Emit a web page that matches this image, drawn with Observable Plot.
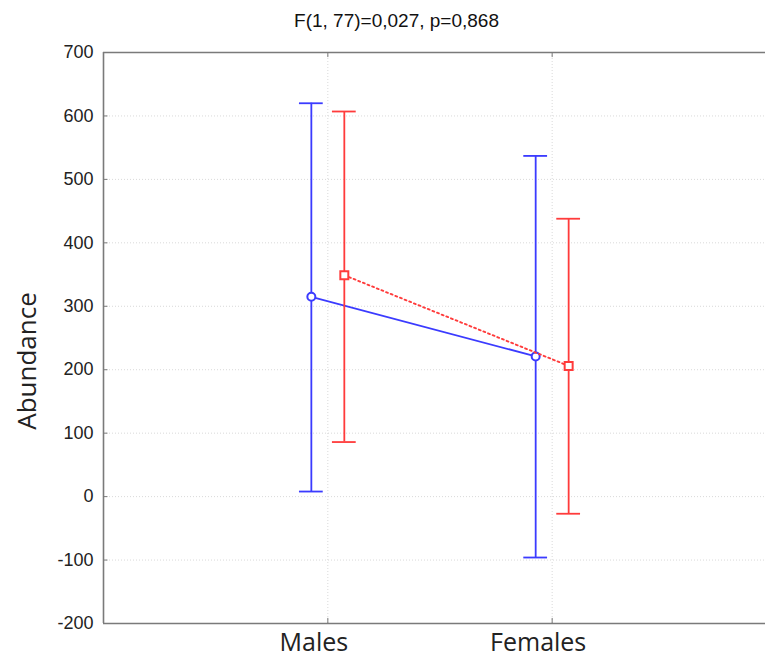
<!DOCTYPE html>
<html>
<head>
<meta charset="utf-8">
<script src="https://cdn.jsdelivr.net/npm/d3@7"></script>
<script src="https://cdn.jsdelivr.net/npm/@observablehq/plot@0.6"></script>
<style>
  html, body { margin: 0; padding: 0; background: #fff; }
</style>
</head>
<body>
<div id="chart"></div>
<script>
// ---- data ----
const title = "F(1, 77)=0,027, p=0,868";
const yLabel = "Abundance";
const categories = ["Males", "Females"];
const yTicks = [-200, -100, 0, 100, 200, 300, 400, 500, 600, 700];

const blueMean = [315, 221];
const blueLow = [8, -96];
const blueHigh = [620, 537];

const redMean = [349, 206];
const redLow = [86, -27];
const redHigh = [607, 438];

// ---- build rows ----
const dodge = 0.0735;
const capHalf = 0.053;
const series = [
  {name: "blue", color: "#3b3bff", mean: blueMean, low: blueLow, high: blueHigh, off: -dodge, symbol: "circle", dash: null},
  {name: "red", color: "#ff3b3b", mean: redMean, low: redLow, high: redHigh, off: dodge, symbol: "square", dash: "2,3"}
];
const rows = series.flatMap(s => categories.map((c, i) => ({
  series: s.name, color: s.color, cat: c, x: i + 1 + s.off,
  mean: s.mean[i], low: s.low[i], high: s.high[i]
})));
const catRows = categories.map((c, i) => ({cat: c, x: i + 1}));

const marks = [
  // grid
  Plot.ruleY(yTicks.filter(v => v > -200 && v < 700), {y: d => d, stroke: "#d9d9d9", strokeDasharray: "1,2"}),
  Plot.ruleX(catRows, {x: "x", stroke: "#d9d9d9", strokeDasharray: "1,2"}),
  // frame
  Plot.ruleY([700, -200], {stroke: "#7a7a7a", strokeWidth: 1.6}),
  Plot.ruleX([0], {stroke: "#7a7a7a", strokeWidth: 1.6}),
  // inner ticks
  Plot.ruleY(yTicks, {y: d => d, x1: 0, x2: 0.02, stroke: "#7a7a7a"}),
  Plot.ruleX(catRows, {x: "x", y1: 700, y2: 692, stroke: "#7a7a7a"}),
  Plot.ruleX(catRows, {x: "x", y1: -200, y2: -192, stroke: "#7a7a7a"}),
  // y axis labels
  Plot.axisY({ticks: yTicks, tickSize: 0, tickPadding: 10, fontSize: 18, fontFamily: "Liberation Sans, Arial, sans-serif", fill: "#222", label: null, tickFormat: d => String(d)}),
  Plot.text([yLabel], {frameAnchor: "left", textAnchor: "middle", lineAnchor: "middle", dx: -76, dy: 23, rotate: -90, fontSize: 26, fontFamily: "Open Sans, Noto Sans, sans-serif", fill: "#222"}),
  // x labels
  Plot.text(catRows, {x: "x", text: "cat", frameAnchor: "bottom", lineAnchor: "middle", dy: 19, dx: -14, fontSize: 25, fontFamily: "Open Sans, Noto Sans, sans-serif", fill: "#222"}),
  // title
  Plot.text([title], {frameAnchor: "top", lineAnchor: "middle", dx: -38, dy: -32, fontSize: 19, fontFamily: "Liberation Sans, Arial, sans-serif", fill: "#111"})
];

for (const s of series) {
  const r = rows.filter(d => d.series === s.name);
  marks.push(
    Plot.ruleX(r, {x: "x", y1: "low", y2: "high", stroke: s.color, strokeWidth: 1.8}),
    Plot.ruleY(r, {y: "high", x1: d => d.x - capHalf, x2: d => d.x + capHalf, stroke: s.color, strokeWidth: 1.8}),
    Plot.ruleY(r, {y: "low", x1: d => d.x - capHalf, x2: d => d.x + capHalf, stroke: s.color, strokeWidth: 1.8}),
    Plot.line(r, {x: "x", y: "mean", stroke: s.color, strokeWidth: 1.8, strokeDasharray: s.dash}),
    Plot.dot(r, {x: "x", y: "mean", symbol: s.symbol, r: s.symbol === "square" ? 4.5 : 4, fill: "white", stroke: s.color, strokeWidth: 2})
  );
}

const chart = Plot.plot({
  width: 765,
  height: 659,
  marginTop: 52,
  marginBottom: 36,
  marginLeft: 103,
  marginRight: 0,
  x: {domain: [0, 3], range: [103, 776], axis: null},
  y: {domain: [-200, 700], axis: null},
  style: {background: "white", overflow: "visible"},
  marks
});
document.getElementById("chart").appendChild(chart);
</script>
</body>
</html>
